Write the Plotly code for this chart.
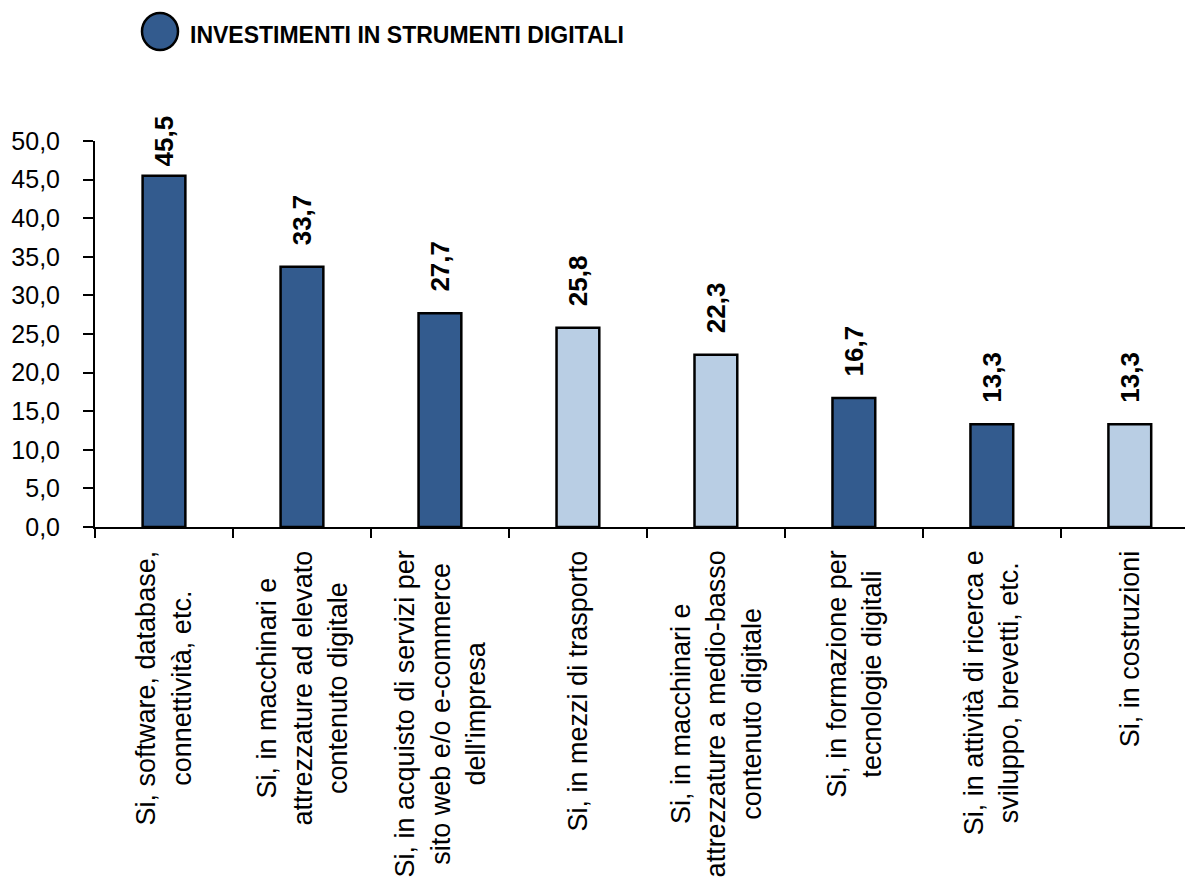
import plotly.graph_objects as go

# Categories (x axis), values (%) and bar fill groups
categories = [
    "Si, software, database,<br>connettività, etc.",
    "Si, in macchinari e<br>attrezzature ad elevato<br>contenuto digitale",
    "Si, in acquisto di servizi per<br>sito web e/o e-commerce<br>dell'impresa",
    "Si, in mezzi di trasporto",
    "Si, in macchinari e<br>attrezzature a medio-basso<br>contenuto digitale",
    "Si, in formazione per<br>tecnologie digitali",
    "Si, in attività di ricerca e<br>sviluppo, brevetti, etc.",
    "Si, in costruzioni",
]
values = [45.5, 33.7, 27.7, 25.8, 22.3, 16.7, 13.3, 13.3]
is_digital = [True, True, True, False, False, True, True, False]

legend_label = "INVESTIMENTI IN STRUMENTI DIGITALI"

DARK = "#335B8E"
LIGHT = "#B9CEE4"

W, H = 1185, 884
M_L, M_R, M_T, M_B = 95, 0, 141, 357
Y_MAX = 50

FONT = "Liberation Sans, Arial, sans-serif"

plot_w = W - M_L - M_R
plot_h = H - M_T - M_B


def px_x(px):
    return (px - M_L) / plot_w


def px_y(py):
    return 1 + (M_T - py) / plot_h


fig = go.Figure()
fig.add_trace(go.Bar(
    x=categories,
    y=values,
    width=0.31,
    marker=dict(color=[DARK if d else LIGHT for d in is_digital],
                line=dict(color="black", width=2.5)),
    showlegend=False,
    hoverinfo="skip",
))

annotations = []
# value labels above bars; kept below the top limit of the chart area
LABEL_GAP = 20
LABEL_LEN = 52
LABEL_TOP = 116
for c, v in zip(categories, values):
    bar_top = M_T + (Y_MAX - v) / Y_MAX * plot_h
    shift = min(LABEL_GAP, bar_top - LABEL_LEN - LABEL_TOP)
    annotations.append(dict(
        x=c, y=v, xref="x", yref="y",
        text=f"{v:.1f}".replace(".", ","),
        textangle=-90, showarrow=False,
        xanchor="center", yanchor="bottom", yshift=shift,
        font=dict(family=FONT, size=26, color="black", weight="bold"),
    ))
# category labels under the axis
for c in categories:
    annotations.append(dict(
        x=c, y=0, xref="x", yref="paper",
        text=c, textangle=-90, showarrow=False, align="center",
        xanchor="center", yanchor="top", yshift=-21,
        font=dict(family=FONT, size=27, color="black"),
    ))

# legend label
annotations.append(dict(
    x=px_x(188), y=px_y(35), xref="paper", yref="paper",
    text=legend_label, showarrow=False,
    xanchor="left", yanchor="middle",
    font=dict(family=FONT, size=23, color="black", weight="bold"),
))

fig.add_shape(
    type="circle", xref="paper", yref="paper",
    xsizemode="pixel", ysizemode="pixel",
    xanchor=0, yanchor=1,
    x0=142 - M_L, x1=178 - M_L,
    y0=M_T - 50, y1=M_T - 13,
    fillcolor=DARK, line=dict(color="black", width=2.5),
)

fig.update_layout(
    width=W, height=H,
    margin=dict(l=M_L, r=M_R, t=M_T, b=M_B),
    plot_bgcolor="white", paper_bgcolor="white",
    separators=",.",
    annotations=annotations,
    xaxis=dict(
        type="category", range=[-0.5, 7.4],
        showline=True, linecolor="black", linewidth=2,
        ticks="outside", tickson="boundaries", ticklen=9, tickwidth=2,
        tickcolor="black", showticklabels=False, showgrid=False,
        fixedrange=True,
    ),
    yaxis=dict(
        range=[0, Y_MAX], dtick=5, tick0=0, tickformat=".1f",
        showline=True, linecolor="black", linewidth=2,
        ticks="outside", ticklen=10, tickwidth=2, tickcolor="black",
        ticklabelstandoff=18,
        tickfont=dict(family=FONT, size=25, color="black"),
        showgrid=False, zeroline=False, fixedrange=True,
    ),
)

fig.write_html("out.html")
